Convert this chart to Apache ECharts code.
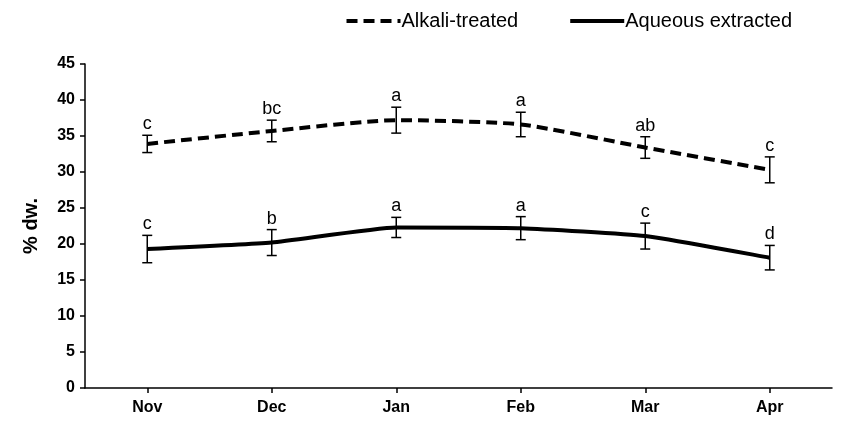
<!DOCTYPE html>
<html>
<head>
<meta charset="utf-8">
<script src="https://cdn.jsdelivr.net/npm/echarts@6/dist/echarts.min.js"></script>
<style>
  html, body { margin: 0; padding: 0; background: #fff; }
  #chart { width: 844px; height: 421px; }
</style>
</head>
<body>
<div id="chart"></div>
<script>
// Months sampled
const months = ['Nov', 'Dec', 'Jan', 'Feb', 'Mar', 'Apr'];

// Alkali-treated fraction: mean, standard deviation, significance letters
const alkaliMean = [33.9, 35.7, 37.2, 36.6, 33.4, 30.3];
const alkaliErr = [1.2, 1.5, 1.8, 1.7, 1.5, 1.8];
const alkaliLetters = ['c', 'bc', 'a', 'a', 'ab', 'c'];

// Aqueous extracted fraction
const aqueousMean = [19.3, 20.2, 22.3, 22.2, 21.1, 18.1];
const aqueousErr = [1.9, 1.8, 1.4, 1.6, 1.8, 1.7];
const aqueousLetters = ['c', 'b', 'a', 'a', 'c', 'd'];

// Y axis ticks
const yTicks = [0, 5, 10, 15, 20, 25, 30, 35, 40, 45];

const FONT = '"Liberation Sans", Arial, sans-serif';

function errorData(mean, err, letters) {
  return mean.map((m, i) => [i, m - err[i], m + err[i], letters[i]]);
}

// Vertical error bar with caps and the significance letter above it
function renderErrorBar(params, api) {
  const x = api.value(0);
  const lo = api.coord([x, api.value(1)]);
  const hi = api.coord([x, api.value(2)]);
  const half = 5;
  const style = { stroke: '#000', lineWidth: 1.5 };
  return {
    type: 'group',
    children: [
      { type: 'line', shape: { x1: lo[0], y1: lo[1], x2: hi[0], y2: hi[1] }, style },
      { type: 'line', shape: { x1: hi[0] - half, y1: hi[1], x2: hi[0] + half, y2: hi[1] }, style },
      { type: 'line', shape: { x1: lo[0] - half, y1: lo[1], x2: lo[0] + half, y2: lo[1] }, style },
      {
        type: 'text',
        x: hi[0], y: hi[1] - 2,
        style: {
          text: api.value(3),
          fill: '#000',
          font: '18px ' + FONT,
          align: 'center',
          verticalAlign: 'bottom'
        }
      }
    ]
  };
}

const chart = echarts.init(document.getElementById('chart'), null, { renderer: 'canvas' });

chart.setOption({
  animation: false,
  backgroundColor: '#fff',
  legend: {
    top: 6,
    right: 47,
    itemWidth: 54,
    itemHeight: 14,
    itemGap: 50,
    itemStyle: { opacity: 0 },
    lineStyle: { width: 4 },
    textStyle: { fontFamily: FONT, fontSize: 20, color: '#000', padding: [0, 0, 0, -4] },
    data: ['Alkali-treated', 'Aqueous extracted']
  },
  grid: { left: 85, right: 12, top: 64, bottom: 33, containLabel: false },
  xAxis: {
    type: 'category',
    data: months,
    boundaryGap: true,
    axisLine: { lineStyle: { color: '#000', width: 1.5 } },
    axisTick: { show: true, alignWithLabel: true, length: 5, lineStyle: { color: '#000', width: 1.5 } },
    axisLabel: { color: '#000', fontFamily: FONT, fontSize: 16, fontWeight: 'bold', margin: 12 }
  },
  yAxis: {
    type: 'value',
    min: yTicks[0],
    max: yTicks[yTicks.length - 1],
    interval: 5,
    name: '% dw.',
    nameLocation: 'middle',
    nameGap: 44,
    nameTextStyle: { color: '#000', fontFamily: FONT, fontSize: 20, fontWeight: 'bold' },
    axisLine: { show: true, lineStyle: { color: '#000', width: 1.5 } },
    axisTick: { show: true, length: 5, lineStyle: { color: '#000', width: 1.5 } },
    axisLabel: { color: '#000', fontFamily: FONT, fontSize: 16, fontWeight: 'bold', margin: 10 },
    splitLine: { show: false }
  },
  series: [
    {
      name: 'Alkali-treated',
      type: 'line',
      data: alkaliMean,
      smooth: 0.2,
      symbol: 'none',
      z: 3,
      lineStyle: { color: '#000', width: 4, type: [11, 6] },
      itemStyle: { color: '#000' }
    },
    {
      name: 'Aqueous extracted',
      type: 'line',
      data: aqueousMean,
      smooth: 0.15,
      symbol: 'none',
      z: 3,
      lineStyle: { color: '#000', width: 4, type: 'solid' },
      itemStyle: { color: '#000' }
    },
    {
      type: 'custom',
      renderItem: renderErrorBar,
      data: errorData(alkaliMean, alkaliErr, alkaliLetters),
      encode: { x: 0, y: [1, 2] },
      z: 4,
      silent: true
    },
    {
      type: 'custom',
      renderItem: renderErrorBar,
      data: errorData(aqueousMean, aqueousErr, aqueousLetters),
      encode: { x: 0, y: [1, 2] },
      z: 4,
      silent: true
    }
  ]
});
</script>
</body>
</html>
